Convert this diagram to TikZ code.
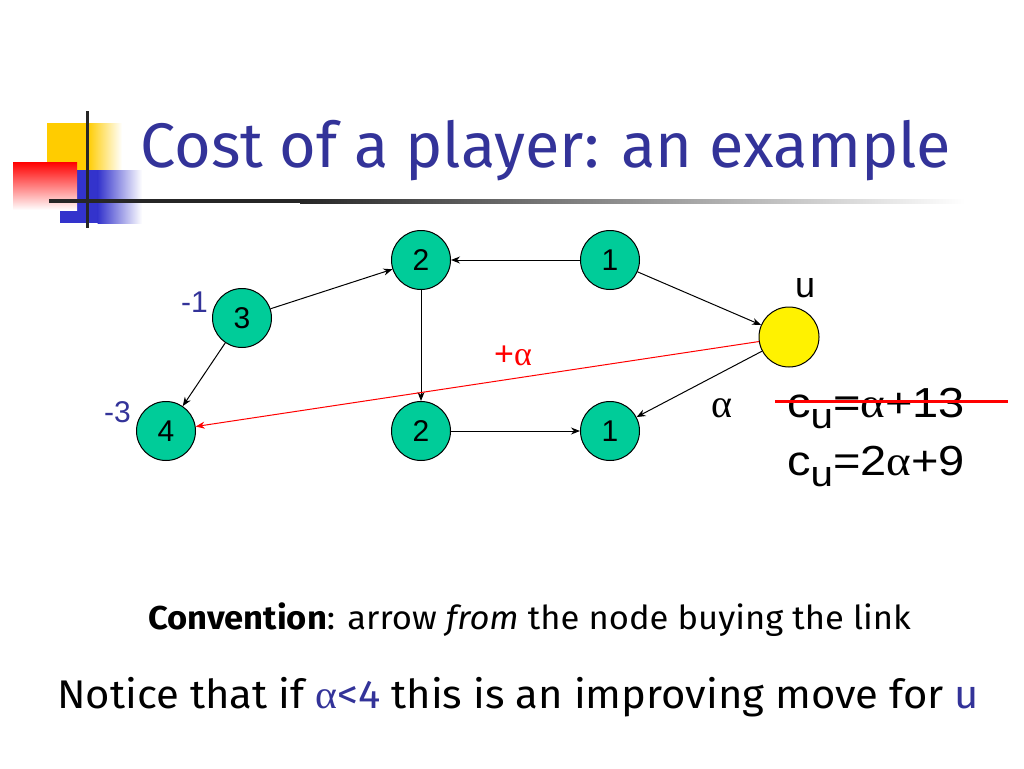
\documentclass[tikz,border=0pt]{standalone}
\usepackage{fontspec}
\setmainfont{Liberation Sans}
\newfontfamily\titlefont{Fira Sans}
\newfontfamily\greekfont{Liberation Serif}
\newcommand{\alp}{{\greekfont α}}
\newcommand{\subu}{\raisebox{-11pt}{\fontsize{36}{36}\selectfont u}}
\usetikzlibrary{arrows.meta}
\definecolor{nodegreen}{RGB}{0,204,153}
\definecolor{titleblue}{RGB}{51,51,153}
\definecolor{logoblue}{RGB}{51,51,204}
\definecolor{logoyellow}{RGB}{255,204,0}
\tikzset{
  player/.style={circle, draw=black, line width=1pt, fill=nodegreen, minimum size=59pt, inner sep=0pt, font=\fontsize{30}{30}\selectfont},
  upl/.style={circle, draw=black, line width=1pt, fill=yellow, minimum size=60pt, inner sep=0pt},
  edge/.style={draw=black, line width=1pt, -{Stealth[length=9pt,width=7pt]}},
  redge/.style={draw=red, line width=1pt, -{Stealth[length=9pt,width=7pt]}},
  lbl/.style={anchor=base west, inner sep=0pt},
}
\begin{document}
\begin{tikzpicture}[x=1pt,y=-1pt]
\useasboundingbox (0,0) rectangle (1024,768);
\fill[white] (0,0) rectangle (1024,768);
% logo
\fill[logoyellow] (47,123) rectangle (88,190);
\shade[left color=logoyellow, right color=white] (87.5,123) rectangle (122,190);
\fill[logoblue] (60,170) rectangle (98,223);
\shade[left color=logoblue, right color=white] (97.5,170) rectangle (142,223);
\shade[shading=axis, shading angle=225, top color=red, bottom color=white] (13,162) rectangle (77,210);
\shade[left color=black!85, right color=white] (300,199) rectangle (965,203);
\fill[black!85] (49,199) rectangle (300.5,203);
\fill[black!85] (85.5,111) rectangle (88.5,228);
% title
\node[lbl, text=titleblue, font=\titlefont\fontsize{63}{63}\selectfont] (title) at (140,167) {Cost of a player: an example};
% nodes
\node[player] (t2) at (421,260) {2};
\node[player] (t1) at (610,260) {1};
\node[player] (n3) at (242,318) {3};
\node[player] (n4) at (166,431) {4};
\node[player] (b2) at (421,431) {2};
\node[player] (b1) at (610,431) {1};
\node[upl] (u) at (789,337) {};
% edges
\draw[edge] (n3) -- (t2);
\draw[edge] (t1) -- (t2);
\draw[edge] (t1) -- (u);
\draw[edge] (t2) -- (b2);
\draw[edge] (b2) -- (b1);
\draw[edge] (u) -- (b1);
\draw[edge] (n3) -- (n4);
\draw[redge] (u) -- (n4);
% labels
\node[lbl, text=titleblue, font=\fontsize{30}{30}\selectfont] (lm1) at (181,312) {-1};
\node[lbl, text=titleblue, font=\fontsize{30}{30}\selectfont] (lm3) at (104,422) {-3};
\node[lbl, font=\fontsize{36}{36}\selectfont] (lu) at (795,297) {u};
\node[lbl, text=red, font=\fontsize{34}{34}\selectfont] (lpa) at (494,365) {+\alp};
\node[lbl, font=\fontsize{40}{40}\selectfont] (la) at (711,417) {\alp};
\node[lbl, font=\fontsize{42}{42}\selectfont] (c1) at (787,417) {\scalebox{1.12}[1]{c\subu=\alp+13}};
\node[lbl, font=\fontsize{42}{42}\selectfont] (c2) at (787,475) {\scalebox{1.12}[1]{c\subu=2\alp+9}};
\coordinate (sa) at (775,401);
\coordinate (sb) at (1008,401);
\draw[red, line width=3pt] (sa) -- (sb);
% bottom texts
\node[lbl, font=\titlefont\fontsize{33}{33}\selectfont] (conv) at (148,629) {\scalebox{1.047}[1]{\textbf{Convention}: arrow \textit{from} the node buying the link}};
\node[lbl, font=\titlefont\fontsize{40}{40}\selectfont] (notice) at (57,708) {\scalebox{1.045}[1]{Notice that if \textcolor{titleblue}{\alp<4} this is an improving move for \textcolor{titleblue}{u}}};
\end{tikzpicture}
\end{document}
